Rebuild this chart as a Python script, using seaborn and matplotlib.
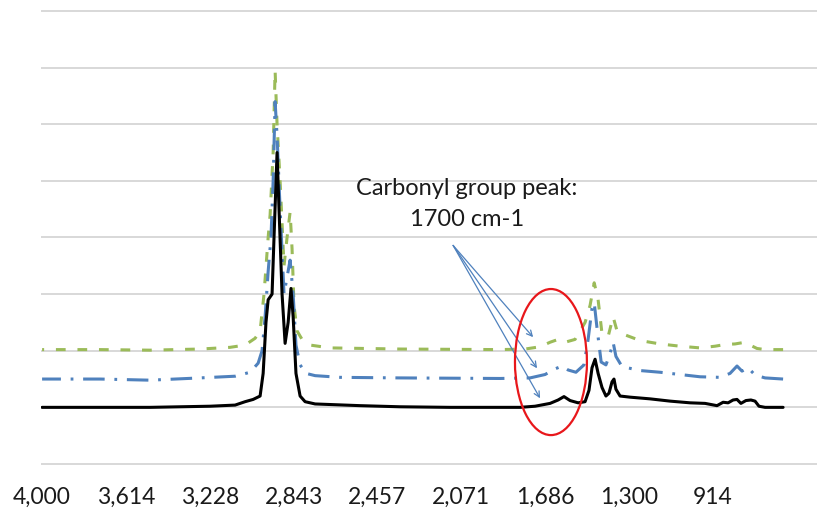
import matplotlib
matplotlib.use("Agg")
import matplotlib.pyplot as plt
from matplotlib.patches import Ellipse
import seaborn as sns
import pandas as pd

# ---- spectra (wavenumber in cm-1, stacked absorbance) ----
black_wn = [4000, 3503, 3365, 3227, 3112, 3066, 3029, 2997, 2983, 2970, 2960, 2942,
            2933, 2919, 2910, 2896, 2882, 2868, 2855, 2845, 2832, 2813, 2790, 2744,
            2675, 2537, 2353, 2123, 1801, 1732, 1663, 1626, 1599, 1571, 1534, 1502,
            1484, 1470, 1456, 1442, 1424, 1406, 1392, 1378, 1369, 1360, 1341, 1295,
            1203, 1111, 1019, 950, 895, 867, 844, 821, 803, 785, 762, 739, 720, 702,
            674, 591]
black_ab = [0.0, 0.0, 0.01, 0.02, 0.04, 0.10, 0.14, 0.20, 0.60, 1.50, 1.90, 2.00,
            3.00, 4.50, 3.50, 2.00, 1.13, 1.50, 2.10, 1.60, 0.60, 0.20, 0.10, 0.06,
            0.05, 0.03, 0.01, 0.0, 0.0, 0.02, 0.07, 0.13, 0.19, 0.12, 0.08, 0.10,
            0.30, 0.70, 0.85, 0.60, 0.35, 0.20, 0.25, 0.45, 0.50, 0.32, 0.20, 0.18,
            0.15, 0.11, 0.08, 0.07, 0.03, 0.09, 0.08, 0.13, 0.14, 0.07, 0.12, 0.13,
            0.11, 0.02, 0.0, 0.0]

blue_wn = [4000, 3733, 3503, 3273, 3112, 3043, 3006, 2988, 2974, 2960, 2947, 2937,
           2928, 2919, 2905, 2887, 2873, 2859, 2845, 2832, 2813, 2786, 2744, 2629,
           2353, 1893, 1755, 1686, 1640, 1607, 1580, 1544, 1507, 1488, 1470, 1460,
           1447, 1428, 1406, 1387, 1373, 1360, 1332, 1249, 1157, 1065, 973, 881,
           835, 803, 780, 752, 720, 674, 591]
blue_ab = [0.50, 0.50, 0.48, 0.52, 0.55, 0.62, 0.78, 1.00, 1.60, 2.40, 3.00, 4.00,
           5.40, 4.80, 3.50, 2.00, 2.30, 2.60, 2.00, 1.10, 0.75, 0.60, 0.56, 0.53,
           0.52, 0.51, 0.52, 0.58, 0.68, 0.73, 0.66, 0.62, 0.75, 1.20, 1.75, 1.85,
           1.40, 0.80, 0.75, 0.95, 1.15, 0.90, 0.72, 0.65, 0.62, 0.58, 0.54, 0.53,
           0.60, 0.73, 0.64, 0.70, 0.57, 0.52, 0.50]

green_wn = [4000, 3733, 3503, 3273, 3135, 3066, 3020, 2997, 2979, 2960, 2951, 2937,
            2928, 2919, 2905, 2887, 2873, 2859, 2850, 2841, 2827, 2804, 2767, 2675,
            2353, 1893, 1778, 1709, 1663, 1626, 1594, 1548, 1502, 1479, 1460, 1442,
            1424, 1396, 1373, 1355, 1318, 1249, 1157, 1065, 973, 904, 858, 812, 766,
            743, 711, 674, 591]
green_ab = [1.02, 1.02, 1.01, 1.03, 1.06, 1.10, 1.22, 1.35, 2.00, 3.00, 3.40, 4.50,
            5.95, 5.00, 4.00, 2.50, 3.00, 3.45, 2.80, 1.80, 1.35, 1.20, 1.10, 1.05,
            1.03, 1.02, 1.03, 1.07, 1.15, 1.20, 1.15, 1.20, 1.50, 1.80, 2.20, 1.90,
            1.30, 1.25, 1.60, 1.35, 1.28, 1.18, 1.12, 1.08, 1.05, 1.08, 1.11, 1.12,
            1.15, 1.10, 1.04, 1.02, 1.02]

tick_values = [4000, 3614, 3228, 2843, 2457, 2071, 1686, 1300, 914]
tick_labels = ["4,000", "3,614", "3,228", "2,843", "2,457", "2,071", "1,686", "1,300", "914"]
grid_levels = list(range(-1, 8))

note_lines = ["Carbonyl group peak:", "1700 cm-1"]

# ---- style ----
sns.set_theme(style="white")
plt.rcParams["font.family"] = ["Lato", "DejaVu Sans"]
plt.rcParams["lines.scale_dashes"] = False

GREEN = "#9BBB59"
BLUE = "#4F81BD"

fig = plt.figure(figsize=(8.17, 5.09), dpi=100)
W, H = 817, 509
x0, x1 = 41, 817
y_top, y_bot = 8.2, 466.8
ax = fig.add_axes([x0 / W, 1 - y_bot / H, (x1 - x0) / W, (y_bot - y_top) / H])

df_g = pd.DataFrame({"wn": green_wn, "ab": green_ab})
df_b = pd.DataFrame({"wn": blue_wn, "ab": blue_ab})
df_k = pd.DataFrame({"wn": black_wn, "ab": black_ab})

sns.lineplot(data=df_g, x="wn", y="ab", ax=ax, color=GREEN, linewidth=2.2,
             linestyle=(0, (7.0, 8.5)), dash_capstyle="butt", zorder=3)
sns.lineplot(data=df_b, x="wn", y="ab", ax=ax, color=BLUE, linewidth=2.2,
             linestyle=(0, (15.5, 7.0, 2.0, 7.0)), dash_capstyle="butt", zorder=4)
sns.lineplot(data=df_k, x="wn", y="ab", ax=ax, color="black", linewidth=2.2,
             zorder=5)

ax.set_xlim(4005, 435)
ax.set_ylim(-1.05, 7.05)

ax.set_yticks(grid_levels)
ax.set_yticklabels([])
ax.yaxis.grid(True, color="#D6D6D6", linewidth=1.3)
ax.xaxis.grid(False)
ax.set_xticks(tick_values)
ax.set_xticklabels(tick_labels, fontsize=16.5, color="#1A1A1A")
ax.tick_params(axis="x", length=0, pad=14.5)
ax.tick_params(axis="y", length=0)
ax.set_xlabel("")
ax.set_ylabel("")
for s in ax.spines.values():
    s.set_visible(False)

# carbonyl region callout
ax.text(2045, 3.87, note_lines[0], ha="center", va="center", fontsize=17, color="#1A1A1A")
ax.text(2045, 3.32, note_lines[1], ha="center", va="center", fontsize=17, color="#1A1A1A")

start = (2109, 2.86)
for end in [(1741, 1.24), (1723, 0.69), (1709, 0.16)]:
    ax.annotate("", xy=end, xytext=start,
                arrowprops=dict(arrowstyle="->", color=BLUE, lw=0.9,
                                shrinkA=0, shrinkB=0, mutation_scale=10),
                zorder=6)

ax.add_patch(Ellipse((1659, 0.8), width=331, height=2.58, fill=False,
                     edgecolor="#E8171B", linewidth=1.6, zorder=7))

fig.savefig("out.png", dpi=100)
